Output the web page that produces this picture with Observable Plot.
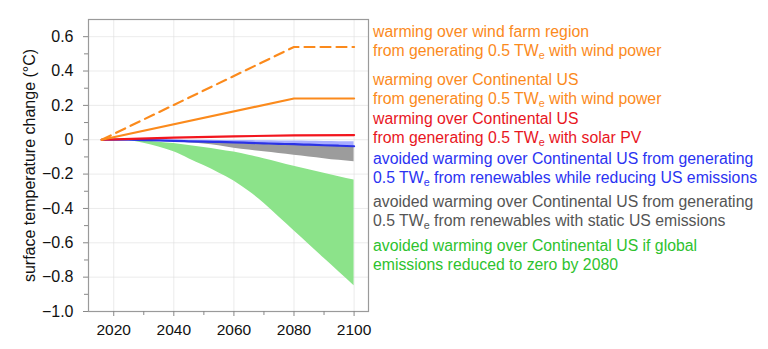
<!DOCTYPE html>
<html>
<head>
<meta charset="utf-8">
<script src="https://cdn.jsdelivr.net/npm/d3@7"></script>
<script src="https://cdn.jsdelivr.net/npm/@observablehq/plot@0.6"></script>
<style>
  html, body { margin: 0; padding: 0; background: #fff; }
  #wrap { position: relative; width: 768px; height: 349px; font-family: "Liberation Sans", Arial, sans-serif; }
  #chart { position: absolute; left: 0; top: 0; }
  #notes { position: absolute; left: 373px; top: 0; width: 395px; font-size: 15.8px; line-height: 19px; white-space: nowrap; }
  #notes div.g { position: absolute; left: 0; }
  #notes sub { font-size: 0.68em; line-height: 0; vertical-align: -0.3em; }
</style>
</head>
<body>
<div id="wrap">
  <div id="chart"></div>
  <div id="notes"></div>
</div>
<script>
// ---- data ----
const lineYears = [2016, 2080, 2100];
const windFarmRegion = [0, 0.54, 0.54];
const windContinental = [0, 0.24, 0.24];

const solarYears = [2016, 2040, 2060, 2080, 2100];
const solarContinental = [0, 0.012, 0.02, 0.025, 0.027];

const bandYears = [2016, 2020, 2025, 2030, 2035, 2040, 2045, 2050, 2055, 2060, 2065, 2070, 2075, 2080, 2085, 2090, 2095, 2100];
const greenUpper = [0, 0, -0.002, -0.007, -0.014, -0.022, -0.033, -0.045, -0.058, -0.072, -0.09, -0.11, -0.132, -0.155, -0.175, -0.195, -0.215, -0.235];
const greenLower = [0, 0, -0.004, -0.02, -0.043, -0.07, -0.11, -0.15, -0.193, -0.24, -0.3, -0.37, -0.45, -0.53, -0.61, -0.69, -0.77, -0.85];
const blueUpper = [0, 0, 0, 0, -0.001, -0.002, -0.003, -0.003, -0.004, -0.004, -0.005, -0.006, -0.007, -0.008, -0.009, -0.01, -0.011, -0.012];
const blueLower = [0, 0, 0, -0.002, -0.004, -0.007, -0.009, -0.011, -0.013, -0.015, -0.018, -0.021, -0.024, -0.026, -0.029, -0.032, -0.035, -0.038];
const grayLower = [0, 0, 0, -0.004, -0.008, -0.012, -0.018, -0.025, -0.035, -0.05, -0.06, -0.07, -0.08, -0.09, -0.1, -0.11, -0.12, -0.128];

const xMajorTicks = [2020, 2040, 2060, 2080, 2100];
const xMinorTicks = [2030, 2050, 2070, 2090];
const yMajorTicks = [-1.0, -0.8, -0.6, -0.4, -0.2, 0, 0.2, 0.4, 0.6];
const yMinorTicks = [-0.9, -0.7, -0.5, -0.3, -0.1, 0.1, 0.3, 0.5];
const yLabel = "surface temperature change (°C)";

const notes = [
  {color: "#fb8a1c", lines: ["warming over wind farm region", "from generating 0.5 TW<sub>e</sub> with wind power"]},
  {color: "#fb8a1c", lines: ["warming over Continental US", "from generating 0.5 TW<sub>e</sub> with wind power"]},
  {color: "#e8161e", lines: ["warming over Continental US", "from generating 0.5 TW<sub>e</sub> with solar PV"]},
  {color: "#2b33f2", lines: ["avoided warming over Continental US from generating", "0.5 TW<sub>e</sub> from renewables while reducing US emissions"]},
  {color: "#555555", lines: ["avoided warming over Continental US from generating", "0.5 TW<sub>e</sub> from renewables with static US emissions"]},
  {color: "#2ec22e", lines: ["avoided warming over Continental US if global", "emissions reduced to zero by 2080"]}
];
const noteTops = [22, 70, 109, 149, 192, 236];

// ---- tables ----
const bands = bandYears.map((year, i) => ({
  year, gU: greenUpper[i], gL: greenLower[i], bU: blueUpper[i], bL: blueLower[i], grL: grayLower[i]
}));
const windFarm = lineYears.map((year, i) => ({year, v: windFarmRegion[i]}));
const windUS = lineYears.map((year, i) => ({year, v: windContinental[i]}));
const solar = solarYears.map((year, i) => ({year, v: solarContinental[i]}));

const fmt = d3.format(".1f");
const chart = Plot.plot({
  width: 372,
  height: 349,
  marginLeft: 88,
  marginRight: 4,
  marginTop: 19,
  marginBottom: 38,
  style: {fontFamily: "'Liberation Sans', Arial, sans-serif", fontSize: "15.5px", color: "#111", background: "#fff", overflow: "visible"},
  x: {domain: [2011.6, 2104.8]},
  y: {domain: [-1.0, 0.7]},
  marks: [
    Plot.gridX(xMajorTicks, {stroke: "#ddd", strokeOpacity: 0.6}),
    Plot.gridY(yMajorTicks, {stroke: "#ddd", strokeOpacity: 0.6}),
    Plot.areaY(bands, {x: "year", y1: "gU", y2: "gL", fill: "#8ce38a", curve: "monotone-x"}),
    Plot.areaY(bands, {x: "year", y1: "bL", y2: "grL", fill: "#9c9c9c", curve: "monotone-x"}),
    Plot.areaY(bands, {x: "year", y1: "bU", y2: "bL", fill: "#a8adff", curve: "monotone-x"}),
    Plot.line(bands, {x: "year", y: "bL", stroke: "#2b33e6", strokeWidth: 2.2, curve: "monotone-x"}),
    Plot.line(solar, {x: "year", y: "v", stroke: "#f2161e", strokeWidth: 2.2, curve: "monotone-x"}),
    Plot.line(windUS, {x: "year", y: "v", stroke: "#fb8a1c", strokeWidth: 2.2}),
    Plot.line(windFarm, {x: "year", y: "v", stroke: "#fb8a1c", strokeWidth: 2.2, strokeDasharray: "10,6"}),
    Plot.frame({stroke: "#9a9a9a", strokeWidth: 1.2}),
    Plot.axisX(xMajorTicks, {tickSize: 5, tickPadding: 7, stroke: "#888", label: null, tickFormat: d => String(d)}),
    Plot.axisX(xMinorTicks, {tickSize: 4, stroke: "#888", fill: "none", label: null}),
    Plot.axisY(yMajorTicks, {tickSize: 5, tickPadding: 10, stroke: "#888", tickFormat: d => d === 0 ? "0" : fmt(d),
      label: yLabel, labelAnchor: "center", labelArrow: "none", labelOffset: 65, fontSize: "16px"}),
    Plot.axisY(yMinorTicks, {tickSize: 4, stroke: "#888", fill: "none", label: null})
  ]
});
document.getElementById("chart").appendChild(chart);

const notesEl = document.getElementById("notes");
notes.forEach((n, i) => {
  const g = document.createElement("div");
  g.className = "g";
  g.style.top = noteTops[i] + "px";
  g.style.color = n.color;
  g.innerHTML = n.lines.join("<br>");
  notesEl.appendChild(g);
});
</script>
</body>
</html>
